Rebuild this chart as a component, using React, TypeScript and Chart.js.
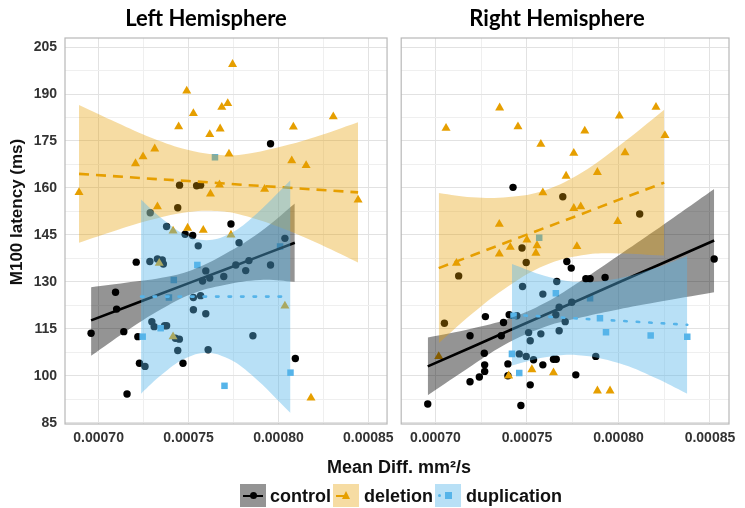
import React, { useEffect, useRef } from "react";
import { Chart, registerables } from "chart.js";
Chart.register(...registerables);

// ---------- axes ----------
const X_MIN = 0.0006813;
const X_MAX = 0.0008604;
const Y_MIN = 84.6;
const Y_MAX = 207.9;
const yTicks = [85, 100, 115, 130, 145, 160, 175, 190, 205];
const yMinorTicks = [92.5, 107.5, 122.5, 137.5, 152.5, 167.5, 182.5, 197.5];
const xTicks = [0.0007, 0.00075, 0.0008, 0.00085];
const xMinorTicks = [0.000725, 0.000775, 0.000825];

const groups = ["control", "deletion", "duplication"];
const groupColors = ["#000000", "#E69F00", "#56B4E9"];
const bandColors = ["rgba(0,0,0,0.42)", "rgba(230,159,0,0.36)", "rgba(86,180,233,0.42)"];
const panelTitles = ["Left Hemisphere", "Right Hemisphere"];

// ---------- Left hemisphere points ----------
const leftControlX = [0.0007956, 0.000745, 0.0007545, 0.0007567, 0.000744, 0.0007287, 0.0007736, 0.0007378, 0.0007481, 0.0007523, 0.0007554, 0.0007781, 0.0008036, 0.0007209, 0.0007285, 0.0007327, 0.0007354, 0.000736, 0.0007596, 0.0007578, 0.0007618, 0.0007696, 0.0007763, 0.0007818, 0.0007836, 0.0007956, 0.0007094, 0.00071, 0.0006958, 0.000714, 0.0007218, 0.0007227, 0.0007158, 0.0007258, 0.0007469, 0.0007527, 0.0007567, 0.0007527, 0.0007596, 0.0007296, 0.0007309, 0.0007367, 0.0007378, 0.0007427, 0.0007449, 0.000744, 0.0007609, 0.0007858, 0.0008094];
const leftControlY = [174.1, 160.9, 160.7, 160.9, 153.7, 152.1, 148.5, 147.7, 145.2, 144.8, 141.5, 142.5, 143.9, 136.3, 136.5, 137.3, 137, 135.7, 133.5, 130.3, 131.2, 131.7, 135.4, 133.6, 136.8, 135.4, 126.7, 121.3, 113.6, 114.1, 112.5, 104, 94.2, 103, 104, 125, 125.6, 121.1, 119.8, 117.3, 115.7, 116, 116, 112, 111.7, 108.1, 108.3, 112.8, 105.5];
const leftDeletionX = [0.0007745, 0.000749, 0.0007527, 0.0007685, 0.0007718, 0.0007445, 0.0007618, 0.0007676, 0.0008083, 0.0008305, 0.0007312, 0.0007247, 0.0007205, 0.0007725, 0.0008074, 0.0008154, 0.0006891, 0.0007672, 0.0007923, 0.0007622, 0.0008443, 0.0007327, 0.0007495, 0.0007582, 0.0007414, 0.0007736, 0.0008036, 0.0008181, 0.0007414, 0.0007337];
const leftDeletionY = [199.5, 191, 183.8, 185.8, 187, 179.6, 177.1, 178.9, 179.5, 182.8, 172.5, 170, 167.8, 170.9, 168.7, 167.2, 158.6, 161, 159.6, 158.1, 156.2, 154, 147.2, 146.5, 146.3, 145, 122.3, 92.9, 112.5, 136];
const leftDuplicationX = [0.0007647, 0.0008009, 0.0007549, 0.0007418, 0.0007391, 0.0007345, 0.0007245, 0.00077, 0.0008067];
const leftDuplicationY = [169.8, 141.3, 135.4, 130.6, 125, 115.2, 112.5, 96.8, 101];

// ---------- Right hemisphere points ----------
const rightControlX = [0.0007424, 0.0007696, 0.0008116, 0.0007473, 0.0007496, 0.0007127, 0.0007049, 0.0007718, 0.0007742, 0.0007822, 0.0007845, 0.0007927, 0.0008523, 0.0007663, 0.0007476, 0.0007587, 0.0007676, 0.0007745, 0.0007658, 0.0007709, 0.0007509, 0.0007576, 0.0007676, 0.0007518, 0.0007273, 0.0007372, 0.0007403, 0.000736, 0.0007189, 0.0007445, 0.0007267, 0.0007269, 0.0007269, 0.000724, 0.0007189, 0.0007458, 0.0007496, 0.0007536, 0.0007587, 0.0007645, 0.000766, 0.0007396, 0.0007396, 0.0007518, 0.0007767, 0.0007876, 0.0006958, 0.0007467];
const rightControlY = [160.2, 157.2, 151.7, 140.8, 136.2, 131.9, 116.8, 136.5, 134.4, 131, 131, 131.4, 137.3, 130.1, 128.5, 126.1, 121.9, 123.5, 119.5, 117.3, 113.8, 113.4, 114.4, 111.2, 118.9, 117, 119.5, 112.8, 112.8, 119.2, 107.2, 103.5, 101.4, 99.6, 98.1, 107, 106.2, 105.1, 103.5, 105.3, 105.3, 103.8, 100, 97.1, 100.3, 106.2, 91, 90.5];
const rightDeletionX = [0.0007058, 0.0007351, 0.0007451, 0.0007576, 0.0007816, 0.0007756, 0.0008005, 0.0008205, 0.0008254, 0.0008036, 0.0007714, 0.0007885, 0.0007587, 0.0007756, 0.0007794, 0.0007996, 0.0007349, 0.00075, 0.0007409, 0.0007555, 0.0007349, 0.0007549, 0.0007773, 0.0007115, 0.0007018, 0.0007527, 0.0007645, 0.00074, 0.0007885, 0.0007954];
const rightDeletionY = [179.1, 185.6, 179.6, 174, 178.2, 171.1, 183, 185.8, 176.8, 171.3, 163.8, 165, 158.5, 153.5, 154, 149.3, 148.4, 143.4, 141.1, 141.6, 138.9, 139.2, 141.3, 136, 106.2, 102, 101, 100, 95.2, 95.2];
const rightDuplicationX = [0.0007567, 0.0007658, 0.0007845, 0.0007899, 0.0007932, 0.0008176, 0.0008376, 0.0007418, 0.0007458, 0.0007427];
const rightDuplicationY = [144.1, 126.4, 124.8, 118.4, 113.9, 112.9, 112.5, 107, 100.9, 119.2];

// ---------- Fitted lines and confidence bands ----------
const leftControlBandX = [0.0006958, 0.000715, 0.000735, 0.000752, 0.00077, 0.00079, 0.0008091];
const leftControlFit = [117.7, 121.9, 126.3, 130.0, 133.9, 138.3, 142.5];
const leftControlUpper = [128.3, 129.7, 131.3, 133.8, 138.8, 146.0, 155.0];
const leftControlLower = [106.4, 114.1, 121.3, 126.2, 129.0, 130.6, 130.0];

const leftDeletionBandX = [0.0006891, 0.00071, 0.00073, 0.00075, 0.000766, 0.00078, 0.0008, 0.00082, 0.0008443];
const leftDeletionFit = [164.5, 163.7, 162.9, 162.2, 161.6, 161.0, 160.3, 159.5, 158.6];
const leftDeletionUpper = [186.5, 180.9, 175.9, 172.1, 170.6, 170.7, 173.0, 176.2, 181.0];
const leftDeletionLower = [142.5, 146.5, 149.9, 152.3, 152.6, 151.3, 147.6, 142.8, 136.2];

const leftDuplicationBandX = [0.0007236, 0.000735, 0.000748, 0.00076, 0.000772, 0.000785, 0.0008067];
const leftDuplicationFit = [125.3, 125.3, 125.3, 125.3, 125.3, 125.3, 125.3];
const leftDuplicationUpper = [156.3, 150.3, 145.1, 143.3, 145.1, 150.3, 162.5];
const leftDuplicationLower = [94.3, 100.3, 105.5, 107.3, 105.5, 100.3, 88.1];

const rightControlBandX = [0.0006958, 0.00072, 0.00074, 0.00076, 0.00078, 0.0008, 0.00082, 0.0008523];
const rightControlFit = [103.0, 109.2, 114.4, 119.5, 124.6, 129.8, 134.9, 143.2];
const rightControlUpper = [112.2, 115.1, 118.2, 123.3, 130.5, 138.4, 146.4, 159.7];
const rightControlLower = [93.8, 103.3, 110.6, 115.7, 118.7, 121.2, 123.4, 126.7];

const rightDeletionBandX = [0.0007018, 0.00072, 0.00074, 0.00076, 0.00078, 0.0008, 0.000825];
const rightDeletionFit = [134.4, 138.4, 142.9, 147.3, 151.7, 156.2, 161.7];
const rightDeletionUpper = [158.4, 157.0, 157.1, 159.3, 164.9, 173.3, 185.0];
const rightDeletionLower = [110.4, 119.8, 128.7, 135.3, 138.5, 139.1, 138.4];

const rightDuplicationBandX = [0.0007418, 0.00076, 0.000778, 0.0008, 0.00082, 0.0008376];
const rightDuplicationFit = [119.5, 118.9, 118.3, 117.6, 116.9, 116.3];
const rightDuplicationUpper = [135.7, 131.9, 130.0, 131.1, 134.4, 138.3];
const rightDuplicationLower = [103.3, 105.9, 106.6, 104.1, 99.4, 94.3];

// ---------- assembly ----------
type Series = { px: number[]; py: number[]; bx: number[]; fit: number[]; up: number[]; lo: number[] };
const leftPanel: Series[] = [
  { px: leftControlX, py: leftControlY, bx: leftControlBandX, fit: leftControlFit, up: leftControlUpper, lo: leftControlLower },
  { px: leftDeletionX, py: leftDeletionY, bx: leftDeletionBandX, fit: leftDeletionFit, up: leftDeletionUpper, lo: leftDeletionLower },
  { px: leftDuplicationX, py: leftDuplicationY, bx: leftDuplicationBandX, fit: leftDuplicationFit, up: leftDuplicationUpper, lo: leftDuplicationLower },
];
const rightPanel: Series[] = [
  { px: rightControlX, py: rightControlY, bx: rightControlBandX, fit: rightControlFit, up: rightControlUpper, lo: rightControlLower },
  { px: rightDeletionX, py: rightDeletionY, bx: rightDeletionBandX, fit: rightDeletionFit, up: rightDeletionUpper, lo: rightDeletionLower },
  { px: rightDuplicationX, py: rightDuplicationY, bx: rightDuplicationBandX, fit: rightDuplicationFit, up: rightDuplicationUpper, lo: rightDuplicationLower },
];

const pointStyles = ["circle", "triangle", "rect"];
const pointRadii = [3.7, 5.2, 4.6];
const lineDashes = [[], [10, 7], [2.5, 10]];
const SANS = "'Liberation Sans', Arial, sans-serif";

const zip = (xs: number[], ys: number[]) => xs.map((x, i) => ({ x, y: ys[i] }));
const near = (arr: number[], v: number) => arr.some((a) => Math.abs(a - v) < 1e-9);

function buildDatasets(panel: Series[]) {
  const ds: any[] = [];
  panel.forEach((s, g) => {
    ds.push({
      type: "line", data: zip(s.bx, s.up), borderColor: "transparent", pointRadius: 0,
      fill: "+1", backgroundColor: bandColors[g], tension: 0.4, order: 50 - g * 10,
    });
    ds.push({
      type: "line", data: zip(s.bx, s.lo), borderColor: "transparent", pointRadius: 0,
      fill: false, tension: 0.4, order: 50 - g * 10,
    });
    ds.push({
      type: "line", data: zip(s.bx, s.fit), borderColor: groupColors[g], borderWidth: 2.6,
      borderDash: lineDashes[g], borderCapStyle: g === 2 ? "round" : "butt", pointRadius: 0, fill: false, tension: 0, order: 49 - g * 10,
    });
  });
  panel.forEach((s, g) => {
    ds.push({
      type: "scatter", data: zip(s.px, s.py), pointStyle: pointStyles[g], pointRadius: pointRadii[g],
      backgroundColor: groupColors[g], borderColor: groupColors[g], borderWidth: 0, order: 100 - g,
    });
  });
  return ds;
}

const borderPlugin = {
  id: "panelBorder",
  afterDatasetsDraw(chart: any) {
    const { ctx, chartArea: a } = chart;
    ctx.save();
    ctx.strokeStyle = "#b8b8b8";
    ctx.lineWidth = 1.2;
    ctx.strokeRect(a.left, a.top, a.right - a.left, a.bottom - a.top);
    ctx.restore();
  },
};

function Panel({ panel, showY, left, width, padL, padR }: any) {
  const ref = useRef<HTMLCanvasElement>(null);
  useEffect(() => {
    const chart = new Chart(ref.current as HTMLCanvasElement, {
      type: "scatter",
      data: { datasets: buildDatasets(panel) },
      options: {
        animation: false,
        responsive: false,
        events: [],
        layout: { padding: { top: 38, right: padR, left: padL, bottom: 0 } },
        plugins: { legend: { display: false }, tooltip: { enabled: false } },
        scales: {
          x: {
            type: "linear", min: X_MIN, max: X_MAX,
            afterBuildTicks: (s: any) => {
              s.ticks = [...xTicks, ...xMinorTicks].sort((a, b) => a - b).map((v) => ({ value: v }));
            },
            afterFit: (s: any) => { s.height = 36; },
            ticks: {
              autoSkip: false, maxRotation: 0, padding: 6, color: "#333",
              font: { family: SANS, size: 14, weight: "bold" },
              callback: (v: any) => (near(xTicks, Number(v)) ? Number(v).toFixed(5) : ""),
            },
            grid: {
              drawTicks: false,
              color: (c: any) => (c.tick && near(xTicks, c.tick.value) ? "#e2e2e2" : "#efefef"),
            },
            border: { display: false },
          },
          y: {
            type: "linear", min: Y_MIN, max: Y_MAX,
            afterBuildTicks: (s: any) => {
              s.ticks = [...yTicks, ...yMinorTicks].sort((a, b) => a - b).map((v) => ({ value: v }));
            },
            afterFit: (s: any) => { s.width = showY ? 65 : 0; },
            ticks: {
              display: showY, autoSkip: false, padding: 8, color: "#333",
              font: { family: SANS, size: 14, weight: "bold" },
              callback: (v: any) => (near(yTicks, Number(v)) ? String(v) : ""),
            },
            grid: {
              drawTicks: false,
              color: (c: any) => (c.tick && near(yTicks, c.tick.value) ? "#e2e2e2" : "#efefef"),
            },
            border: { display: false },
          },
        },
      } as any,
      plugins: [borderPlugin],
    });
    return () => chart.destroy();
  }, []);
  return (
    <canvas ref={ref} width={width} height={460}
      style={{ position: "absolute", left, top: 0, width, height: 460 }} />
  );
}

function LegendKey({ g, left }: { g: number; left: number }) {
  const c = groupColors[g];
  const box: React.CSSProperties = {
    position: "absolute", left, top: 484, width: 26, height: 23, background: bandColors[g],
  };
  let line: React.ReactNode = null;
  let mark: React.ReactNode = null;
  if (g === 0) {
    line = <div style={{ position: "absolute", left: 3, top: 10.5, width: 20, height: 2.5, background: c }} />;
    mark = <div style={{ position: "absolute", left: 9.5, top: 8, width: 7, height: 7, borderRadius: "50%", background: c }} />;
  } else if (g === 1) {
    line = <div style={{ position: "absolute", left: 3, top: 10.5, width: 9, height: 2.5, background: c }} />;
    mark = <div style={{ position: "absolute", left: 9, top: 7, width: 0, height: 0, borderLeft: "4.5px solid transparent", borderRight: "4.5px solid transparent", borderBottom: "8px solid " + c }} />;
  } else {
    line = <div style={{ position: "absolute", left: 3, top: 10, width: 3, height: 3, borderRadius: "50%", background: c }} />;
    mark = <div style={{ position: "absolute", left: 10, top: 8, width: 7, height: 7, background: c }} />;
  }
  return <div style={box}>{line}{mark}</div>;
}

const legendBoxLefts = [240, 333, 435];
const legendTextLefts = [270, 364, 466];

export default function App() {
  const text: React.CSSProperties = { position: "absolute", fontFamily: SANS, fontWeight: "bold", color: "#111", whiteSpace: "nowrap" };
  const titleFont = "Lato, 'Open Sans', sans-serif";
  return (
    <div style={{ position: "fixed", left: 0, top: 0, width: 745, height: 508, background: "#fff", overflow: "hidden" }}>
      <Panel panel={leftPanel} showY={true} left={0} width={400} padL={0} padR={6} />
      <Panel panel={rightPanel} showY={false} left={396} width={349} padL={5} padR={16} />
      <div style={{ ...text, fontFamily: titleFont, fontSize: 22, left: 206 - 150, width: 300, textAlign: "center", top: 4, lineHeight: "28px", color: "#000" }}>{panelTitles[0]}</div>
      <div style={{ ...text, fontFamily: titleFont, fontSize: 22, left: 557 - 150, width: 300, textAlign: "center", top: 4, lineHeight: "28px", color: "#000" }}>{panelTitles[1]}</div>
      <div style={{ ...text, fontSize: 17, left: 17 - 150, top: 212 - 11, width: 300, height: 22, lineHeight: "22px", textAlign: "center", transform: "rotate(-90deg)" }}>M100 latency (ms)</div>
      <div style={{ ...text, fontSize: 18, left: 399 - 150, top: 456, width: 300, lineHeight: "22px", textAlign: "center" }}>Mean Diff. mm²/s</div>
      {groups.map((name, g) => (
        <React.Fragment key={name}>
          <LegendKey g={g} left={legendBoxLefts[g]} />
          <div style={{ ...text, fontSize: 18, left: legendTextLefts[g], top: 485, lineHeight: "22px" }}>{name}</div>
        </React.Fragment>
      ))}
    </div>
  );
}
